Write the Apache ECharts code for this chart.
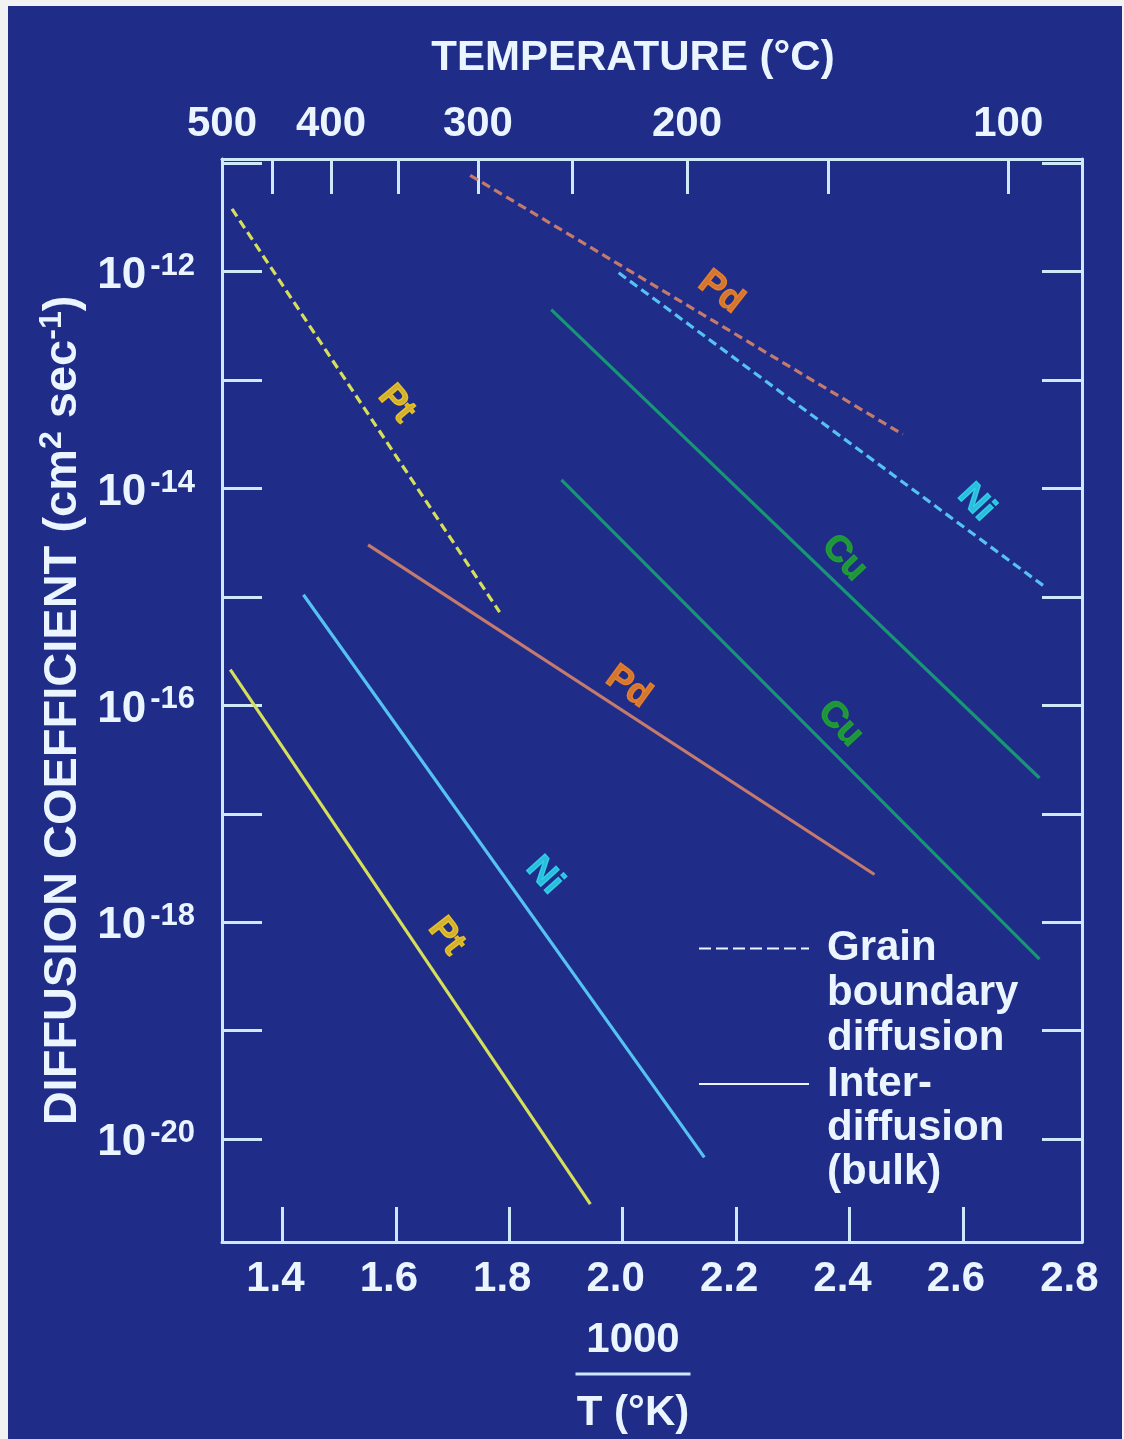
<!DOCTYPE html>
<html><head><meta charset="utf-8">
<script src="https://cdn.jsdelivr.net/npm/echarts@6/dist/echarts.min.js"></script>
<style>
html,body{margin:0;padding:0;background:#f2f2f2;width:1124px;height:1439px;overflow:hidden}
#chart{position:absolute;left:8px;top:6px;width:1114px;height:1433px}
</style></head><body><div id="chart"></div>
<script>
// x = 1000 / T(K); y = log10 of diffusion coefficient D (cm^2 sec^-1)
// Grain boundary diffusion (dashed)
const ptGrainX = [1.311, 1.783];  const ptGrainLogD = [-11.42, -15.14];
const pdGrainX = [1.731, 2.494];  const pdGrainLogD = [-11.11, -13.50];
const niGrainX = [1.993, 2.743];  const niGrainLogD = [-12.01, -14.90];
// Interdiffusion (bulk) (solid)
const cuUpperX = [1.874, 2.735];  const cuUpperLogD = [-12.35, -16.67];
const cuLowerX = [1.892, 2.735];  const cuLowerLogD = [-13.92, -18.34];
const pdBulkX  = [1.551, 2.444];  const pdBulkLogD  = [-14.52, -17.56];
const niBulkX  = [1.437, 2.144];  const niBulkLogD  = [-14.98, -20.17];
const ptBulkX  = [1.308, 1.943];  const ptBulkLogD  = [-15.67, -20.60];

// element labels (anchor points in data space)
const labelNames = ['Pt', 'Pd', 'Ni', 'Cu', 'Cu', 'Pd', 'Ni', 'Pt'];
const labelX     = [1.601, 2.173, 2.623, 2.391, 2.384, 2.010, 1.862, 1.689];
const labelLogD  = [-13.22, -12.19, -14.13, -14.64, -16.17, -15.83, -17.57, -18.13];

// axis ticks / labels
const xTickValues  = [1.4, 1.6, 1.8, 2.0, 2.2, 2.4, 2.6];
const xLabelValues = [1.4, 1.6, 1.8, 2.0, 2.2, 2.4, 2.6, 2.8];
const tempTickC    = [450, 400, 350, 300, 250, 200, 150, 100];
const tempLabelC   = [500, 400, 300, 200, 100];
const decadeTicks  = [-20, -19, -18, -17, -16, -15, -14, -13, -12, -11];
const decadeLabels = [-20, -18, -16, -14, -12];

const toInvT = c => 1000 / (c + 273.15);
const XMIN = toInvT(500), XMAX = 2.81;
const YMIN = -20.95, YMAX = -10.96;

const FONT = '"Liberation Sans", Arial, Helvetica, sans-serif';
const BG = '#1f2c88', AX = '#cde9fb', TXT = '#eaf5ff';
const lineColors = { Pt: '#d6df5a', Pd: '#c47a6c', Ni: '#55c2f3', Cu: '#179574' };
const labelColors = { Pt: '#ffd21a', Pd: '#ff8a1e', Ni: '#30e2f3', Cu: '#1fae2a' };
const labelRotate = [-50, -38, -47, -47, -47, -36, -48, -52];
const DASH = [9, 5];

function pairs(xs, ys) { return xs.map((x, i) => [x, ys[i]]); }
function lineSeries(name, el, xs, ys, dashed) {
  return {
    name, type: 'line', xAxisIndex: 0, yAxisIndex: 0, symbol: 'none', silent: true,
    data: pairs(xs, ys),
    lineStyle: { color: lineColors[el], width: 3.2, type: dashed ? DASH : 'solid' },
    itemStyle: { color: lineColors[el] }, z: 3
  };
}

const series = [
  lineSeries('Pt grain boundary', 'Pt', ptGrainX, ptGrainLogD, true),
  lineSeries('Pd grain boundary', 'Pd', pdGrainX, pdGrainLogD, true),
  lineSeries('Ni grain boundary', 'Ni', niGrainX, niGrainLogD, true),
  lineSeries('Cu interdiffusion A', 'Cu', cuUpperX, cuUpperLogD, false),
  lineSeries('Cu interdiffusion B', 'Cu', cuLowerX, cuLowerLogD, false),
  lineSeries('Pd interdiffusion', 'Pd', pdBulkX, pdBulkLogD, false),
  lineSeries('Ni interdiffusion', 'Ni', niBulkX, niBulkLogD, false),
  lineSeries('Pt interdiffusion', 'Pt', ptBulkX, ptBulkLogD, false),
  {
    name: 'labels', type: 'scatter', symbolSize: 0, silent: true, z: 5,
    itemStyle: { color: 'rgba(0,0,0,0)' },
    data: labelNames.map((n, i) => ({
      name: n, value: [labelX[i], labelLogD[i]],
      label: { rotate: labelRotate[i], color: labelColors[n], textBorderColor: labelColors[n] }
    })),
    label: {
      show: true, position: 'inside', formatter: p => p.name,
      textBorderWidth: 1.3, textShadowBlur: 0,
      fontFamily: FONT, fontWeight: 'bold', fontSize: 36, align: 'center', verticalAlign: 'middle'
    }
  },
  { name: 'Grain boundary diffusion', type: 'line', data: [], symbol: 'none',
    lineStyle: { color: TXT, width: 3, type: [12, 5] }, itemStyle: { color: TXT } },
  { name: 'Inter-diffusion (bulk)', type: 'line', data: [], symbol: 'none',
    lineStyle: { color: TXT, width: 3, type: 'solid' }, itemStyle: { color: TXT } }
];

const axisLine = { show: true, lineStyle: { color: AX, width: 3 } };
function ticks(vals, len) { return { show: true, inside: true, length: len, customValues: vals, lineStyle: { color: AX, width: 3 } }; }
const labelText = { color: TXT, fontFamily: FONT, fontWeight: 'bold', fontSize: 42 };

function legendText(lh) {
  return {
    color: TXT, fontFamily: FONT, fontWeight: 'bold', fontSize: 42, lineHeight: lh,
    padding: [0, 0, 0, 13],
    rich: { sp: { lineHeight: 2 * lh, height: 2 * lh } }
  };
}

const option = {
  backgroundColor: BG,
  animation: false,
  textStyle: { fontFamily: FONT },
  grid: { left: 214, top: 153, width: 860, height: 1084, containLabel: false },
  xAxis: [
    {
      type: 'value', position: 'bottom', min: XMIN, max: XMAX,
      axisLine, axisTick: ticks(xTickValues, 35), splitLine: { show: false },
      axisLabel: Object.assign({ customValues: xLabelValues, margin: 16, padding: [0, 14, 0, 0], formatter: v => v.toFixed(1) }, labelText),
      name: '{n|1000}\n{bar|}\n{d|T (°K)}', nameLocation: 'middle', nameGap: 74,
      nameTextStyle: {
        color: TXT, padding: [0, 38, 0, 0],
        rich: {
          n: { fontFamily: FONT, fontWeight: 'bold', fontSize: 42, lineHeight: 48, color: TXT, align: 'center' },
          bar: { width: 115, height: 3, backgroundColor: AX, lineHeight: 20, align: 'center' },
          d: { fontFamily: FONT, fontWeight: 'bold', fontSize: 42, lineHeight: 58, color: TXT, align: 'center' }
        }
      }
    },
    {
      type: 'value', position: 'top', min: XMIN, max: XMAX,
      axisLine, axisTick: ticks(tempTickC.map(toInvT), 35), splitLine: { show: false },
      axisLabel: Object.assign({ customValues: tempLabelC.map(toInvT), margin: 14,
        formatter: v => String(Math.round(1000 / v - 273.15)) }, labelText),
      name: 'TEMPERATURE (°C)', nameLocation: 'middle', nameGap: 80,
      nameTextStyle: { color: TXT, fontFamily: FONT, fontWeight: 'bold', fontSize: 42, lineHeight: 42, padding: [0, 38, 0, 0] }
    }
  ],
  yAxis: [
    {
      type: 'value', position: 'left', min: YMIN, max: YMAX,
      axisLine, axisTick: ticks(decadeTicks, 40), splitLine: { show: false },
      axisLabel: {
        customValues: decadeLabels, margin: 27, padding: [8, 0, 0, 0],
        formatter: v => '{b|10}{s|' + v + '}',
        rich: {
          b: { color: TXT, fontFamily: FONT, fontWeight: 'bold', fontSize: 44, lineHeight: 50 },
          s: { color: TXT, fontFamily: FONT, fontWeight: 'bold', fontSize: 31, lineHeight: 28, verticalAlign: 'top', padding: [0, 0, 0, 4] }
        }
      },
      name: '{t|DIFFUSION COEFFICIENT (cm}{s|2}{t| sec}{s|-1}{t|)}',
      nameLocation: 'middle', nameRotate: 90, nameGap: 130,
      nameTextStyle: {
        padding: [0, 20, 0, 0],
        rich: {
          t: { color: TXT, fontFamily: FONT, fontWeight: 'bold', fontSize: 47, lineHeight: 54 },
          s: { color: TXT, fontFamily: FONT, fontWeight: 'bold', fontSize: 32, lineHeight: 30, verticalAlign: 'top' }
        }
      }
    },
    {
      type: 'value', position: 'right', min: YMIN, max: YMAX,
      axisLine, axisTick: ticks(decadeTicks, 40), splitLine: { show: false },
      axisLabel: { show: false }
    }
  ],
  legend: [
    {
      data: ['Grain boundary diffusion'], orient: 'vertical', left: 690, top: 830, padding: 0,
      itemWidth: 110, itemHeight: 14, selectedMode: false,
      itemStyle: { opacity: 0 },
      formatter: () => '{sp|}\nGrain\nboundary\ndiffusion', textStyle: legendText(45)
    },
    {
      data: ['Inter-diffusion (bulk)'], orient: 'vertical', left: 690, top: 968, padding: 0,
      itemWidth: 110, itemHeight: 14, selectedMode: false,
      itemStyle: { opacity: 0 },
      formatter: () => '{sp|}\nInter-\ndiffusion\n(bulk)', textStyle: legendText(44)
    }
  ],
  series
};

const chart = echarts.init(document.getElementById('chart'), null, { renderer: 'canvas' });
chart.setOption(option);
</script>
</body></html>
